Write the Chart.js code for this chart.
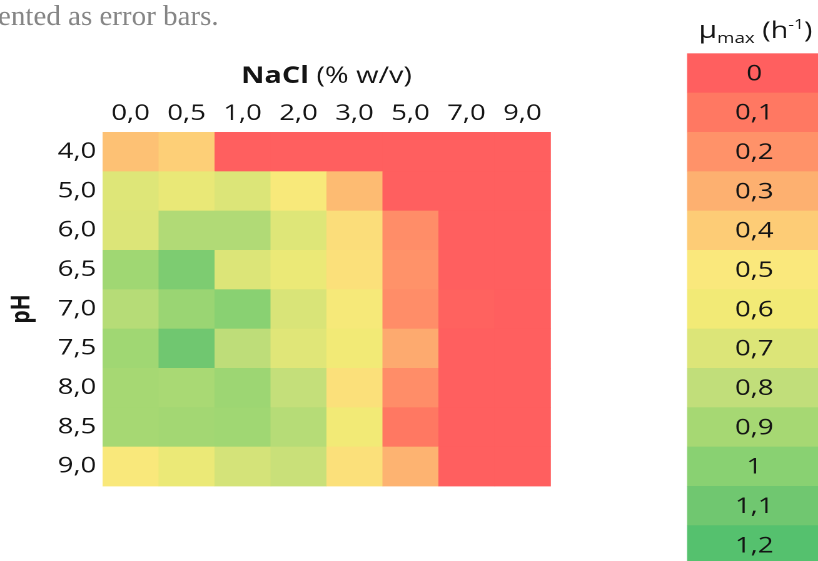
<!DOCTYPE html>
<html><head><meta charset="utf-8">
<script src="https://cdn.jsdelivr.net/npm/chart.js@4.4.1/dist/chart.umd.min.js"></script>
<style>
html,body{margin:0;padding:0;background:#fff;overflow:hidden;width:818px;height:561px}
#stretch{position:absolute;left:0;top:0;width:654px;height:561px;transform-origin:0 0;transform:scaleX(1.2508)}
</style></head><body>
<div id="stretch"><canvas id="chart" width="654" height="561"></canvas></div>
<script>
// ---- data ----
const naclLabels = ['0,0','0,5','1,0','2,0','3,0','5,0','7,0','9,0'];
const phLabels   = ['4,0','5,0','6,0','6,5','7,0','7,5','8,0','8,5','9,0'];
// μmax (h^-1) per pH row, one value per NaCl column
const mu_pH4_0 = [0.36, 0.41, 0, 0, 0, 0, 0, 0];
const mu_pH5_0 = [0.69, 0.64, 0.70, 0.53, 0.34, 0, 0, 0];
const mu_pH6_0 = [0.70, 0.86, 0.86, 0.69, 0.46, 0.18, 0, 0];
const mu_pH6_5 = [0.92, 1.05, 0.70, 0.63, 0.47, 0.20, 0, 0];
const mu_pH7_0 = [0.84, 0.94, 1.00, 0.71, 0.55, 0.18, 0.01, 0];
const mu_pH7_5 = [0.92, 1.10, 0.81, 0.68, 0.60, 0.28, 0, 0];
const mu_pH8_0 = [0.90, 0.89, 0.93, 0.79, 0.47, 0.18, 0, 0];
const mu_pH8_5 = [0.90, 0.91, 0.92, 0.84, 0.60, 0.10, 0, 0];
const mu_pH9_0 = [0.51, 0.63, 0.73, 0.77, 0.47, 0.31, 0, 0];
const legendValues = [0, 0.1, 0.2, 0.3, 0.4, 0.5, 0.6, 0.7, 0.8, 0.9, 1.0, 1.1, 1.2];
const legendLabels = ['0','0,1','0,2','0,3','0,4','0,5','0,6','0,7','0,8','0,9','1','1,1','1,2'];
const captionText = 'ented as error bars.';
const xTitleBold = 'NaCl';
const xTitleRest = ' (% w/v)';
const yTitle = 'pH';

// ---- styles ----
const STRETCH = 1.2508;
const legendColors = [
  [255,95,95],[255,120,98],[255,146,105],[253,176,112],[253,204,118],[250,232,124],
  [242,234,118],[220,229,120],[193,222,122],[166,216,115],[137,209,114],[112,199,112],[85,193,110]
];
const FONT = '"Open Sans", "Noto Sans", sans-serif';
const TXT = '#141414';
const LEG_LEFT = 549.3, LEG_RIGHT = 660, LEG_CX = 603;

function colorFor(v){
  if (v <= legendValues[0]) return 'rgb(' + legendColors[0].join(',') + ')';
  for (let i = 1; i < legendValues.length; i++){
    if (v <= legendValues[i]){
      const t = (v - legendValues[i-1]) / (legendValues[i] - legendValues[i-1]);
      const a = legendColors[i-1], b = legendColors[i];
      return 'rgb(' + a.map((c,k)=>Math.round(c + (b[k]-c)*t)).join(',') + ')';
    }
  }
  return 'rgb(' + legendColors[legendColors.length-1].join(',') + ')';
}

const rows = [mu_pH4_0, mu_pH5_0, mu_pH6_0, mu_pH6_5, mu_pH7_0, mu_pH7_5, mu_pH8_0, mu_pH8_5, mu_pH9_0];
const cells = [];
rows.forEach((r,i)=> r.forEach((v,j)=> cells.push({x: naclLabels[j], y: phLabels[i], v: v})));

const heatPlugin = {
  id: 'heat',
  beforeDatasetsDraw(chart){
    const {ctx, scales:{x, y}} = chart;
    const w = Math.abs(x.getPixelForValue(1) - x.getPixelForValue(0));
    const h = Math.abs(y.getPixelForValue(1) - y.getPixelForValue(0));
    const meta = chart.getDatasetMeta(0);
    const data = chart.data.datasets[0].data;
    ctx.save();
    meta.data.forEach((pt, k)=>{
      ctx.fillStyle = colorFor(data[k].v);
      ctx.fillRect(pt.x - w/2, pt.y - h/2, w + 0.4, h + 0.4);
    });
    ctx.restore();
  }
};

const annotPlugin = {
  id: 'annot',
  afterDraw(chart){
    const {ctx, chartArea, scales:{y}} = chart;
    ctx.save();
    // caption fragment (drawn without the horizontal stretch)
    ctx.save();
    ctx.scale(1/STRETCH, 1);
    ctx.font = '29px "Liberation Serif", serif';
    ctx.fillStyle = '#858585';
    ctx.textAlign = 'left'; ctx.textBaseline = 'alphabetic';
    ctx.fillText(captionText, -2, 25);
    ctx.restore();
    // x axis title (mixed weight)
    const fb = 'bold 23px ' + FONT, fr = '23px ' + FONT;
    ctx.font = fb; const w1 = ctx.measureText(xTitleBold).width;
    ctx.font = fr; const w2 = ctx.measureText(xTitleRest).width;
    const sx = (chartArea.left + chartArea.right)/2 - (w1 + w2)/2;
    ctx.fillStyle = TXT;
    ctx.font = fb; ctx.fillText(xTitleBold, sx, 83);
    ctx.font = fr; ctx.fillText(xTitleRest, sx + w1, 83);
    // colour-scale legend aligned with heat-map rows
    const h = Math.abs(y.getPixelForValue(1) - y.getPixelForValue(0));
    const top0 = y.getPixelForValue(0) - h/2 - 2*h;
    legendValues.forEach((v,i)=>{
      ctx.fillStyle = colorFor(v);
      ctx.fillRect(LEG_LEFT, top0 + i*h, LEG_RIGHT - LEG_LEFT, h + 0.4);
    });
    ctx.fillStyle = TXT;
    ctx.font = '22px ' + FONT;
    ctx.textAlign = 'center'; ctx.textBaseline = 'middle';
    legendLabels.forEach((t,i)=> ctx.fillText(t, LEG_CX, top0 + i*h + h/2 + 1));
    // legend title  μmax (h^-1)
    const parts = [
      {t:'μ', f:'24px ' + FONT, dy:0},
      {t:'max', f:'15px ' + FONT, dy:5},
      {t:' (h', f:'23px ' + FONT, dy:0},
      {t:'-1', f:'14px ' + FONT, dy:-9},
      {t:')', f:'23px ' + FONT, dy:0}
    ];
    let tot = 0;
    parts.forEach(p=>{ ctx.font = p.f; p.w = ctx.measureText(p.t).width; tot += p.w; });
    let px = LEG_CX + 1 - tot/2;
    ctx.textAlign = 'left'; ctx.textBaseline = 'alphabetic';
    parts.forEach(p=>{ ctx.font = p.f; ctx.fillText(p.t, px, 38 + p.dy); px += p.w; });
    ctx.restore();
  }
};

new Chart(document.getElementById('chart'), {
  type: 'scatter',
  data: { datasets: [{ data: cells, pointRadius: 0, pointHoverRadius: 0 }] },
  options: {
    responsive: false,
    animation: false,
    devicePixelRatio: 2,
    events: [],
    layout: { padding: { left: 0, top: 0, right: 214, bottom: 75 } },
    plugins: { legend: { display: false }, tooltip: { enabled: false } },
    scales: {
      x: {
        type: 'category', labels: naclLabels, position: 'top', offset: true,
        grid: { display: false, drawTicks: false }, border: { display: false },
        ticks: { padding: 5, autoSkip: false, maxRotation: 0, color: TXT, font: { family: FONT, size: 22 } },
        afterFit(s){ s.height = 132; }
      },
      y: {
        type: 'category', labels: phLabels, offset: true,
        grid: { display: false, drawTicks: false }, border: { display: false },
        ticks: { padding: 5, autoSkip: false, color: TXT, font: { family: FONT, size: 22 } },
        title: { display: true, text: yTitle, color: TXT, font: { family: FONT, size: 21, weight: 'bold' }, padding: { top: 5, bottom: 0 } },
        afterFit(s){ s.width = 82; }
      }
    }
  },
  plugins: [heatPlugin, annotPlugin]
});
</script>
</body></html>
